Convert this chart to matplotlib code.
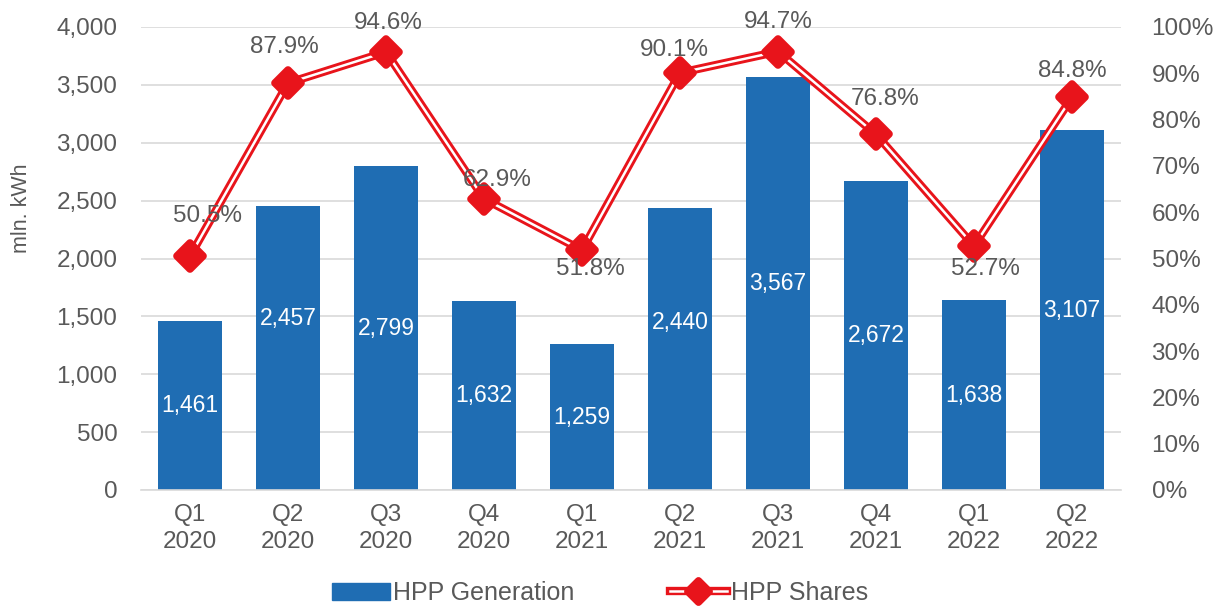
import matplotlib
matplotlib.use("Agg")
import matplotlib.pyplot as plt
from matplotlib.markers import MarkerStyle
from matplotlib.patches import Patch
from matplotlib.lines import Line2D
from matplotlib.ticker import FuncFormatter, MultipleLocator

plt.rcParams['font.family'] = ['Liberation Sans', 'DejaVu Sans']

quarters = ["Q1\n2020", "Q2\n2020", "Q3\n2020", "Q4\n2020", "Q1\n2021",
            "Q2\n2021", "Q3\n2021", "Q4\n2021", "Q1\n2022", "Q2\n2022"]
generation = [1461, 2457, 2799, 1632, 1259, 2440, 3567, 2672, 1638, 3107]
shares = [50.5, 87.9, 94.6, 62.9, 51.8, 90.1, 94.7, 76.8, 52.7, 84.8]

TEXT = "#595959"
GRID = "#d9d9d9"
BLUE = "#1f6db3"
RED = "#e8141b"
FS = 17.5
FS_BAR = 16.5
FS_LEG = 18

fig = plt.figure(figsize=(12.29, 6.07), dpi=100)
ax = fig.add_axes([141 / 1229, 1 - 490 / 607, 980 / 1229, 463 / 607])
x = list(range(len(quarters)))

ax.bar(x, generation, width=0.66, color=BLUE, zorder=2)
ax.set_xlim(-0.5, len(quarters) - 0.5)
ax.set_ylim(0, 4000)
ax.yaxis.set_major_locator(MultipleLocator(500))
ax.yaxis.set_major_formatter(FuncFormatter(lambda v, p: f"{int(v):,}"))
ax.grid(axis="y", color=GRID, linewidth=1.2, zorder=0)
ax.set_axisbelow(True)
for s in ["top", "left", "right"]:
    ax.spines[s].set_visible(False)
ax.spines["bottom"].set_color(GRID)
ax.spines["bottom"].set_linewidth(1.2)
ax.set_xticks(x)
ax.set_xticklabels(quarters, fontsize=FS, color=TEXT, linespacing=1.3)
ax.tick_params(axis="x", length=0, pad=10)
ax.tick_params(axis="y", length=0, pad=17, labelsize=FS, labelcolor=TEXT)
fig.text(22 / 1229, 1 - 208 / 607, "mln. kWh", rotation=90, ha="center",
         va="center", fontsize=15.5, color=TEXT)

# value labels inside the bars (two lifted clear of the share line)
bar_lift = {1: 29, 5: 26}
for i, v in enumerate(generation):
    ax.annotate(f"{v:,}", (i, v / 2), xytext=(0, bar_lift.get(i, 0)),
                textcoords="offset pixels", ha="center", va="center",
                fontsize=FS_BAR, color="white", zorder=5)

ax2 = ax.twinx()
ax2.set_ylim(0, 100)
ax2.yaxis.set_major_locator(MultipleLocator(10))
ax2.yaxis.set_major_formatter(FuncFormatter(lambda v, p: f"{int(v)}%"))
for s in ["top", "left", "right", "bottom"]:
    ax2.spines[s].set_visible(False)
ax2.tick_params(axis="y", length=0, pad=22, labelsize=FS, labelcolor=TEXT)

ax2.plot(x, shares, color=RED, linewidth=6, solid_joinstyle="miter", zorder=3)
ax2.plot(x, shares, color="white", linewidth=1.8, solid_joinstyle="miter", zorder=4)
mk = MarkerStyle("D", joinstyle="round")
ax2.plot(x, shares, linestyle="none", marker=mk, markersize=13,
         markerfacecolor=RED, markeredgecolor=RED, markeredgewidth=5.5, zorder=5)

share_offsets = [(17, 40), (-4, 36), (2, 29), (13, 19), (8, -19),
                 (-6, 23), (0, 30), (9, 35), (11, -23), (0, 26)]
for i, (v, off) in enumerate(zip(shares, share_offsets)):
    ax2.annotate(f"{v:.1f}%", (i, v), xytext=off, textcoords="offset pixels",
                 ha="center", va="center", fontsize=FS, color=TEXT, zorder=6)

h_bar = Patch(facecolor=BLUE, edgecolor=BLUE)
h_red = Line2D([], [], color=RED, linewidth=6)
h_white = Line2D([], [], color="white", linewidth=1.8)
h_mk = Line2D([], [], linestyle="none", marker=mk, markersize=11,
              markerfacecolor=RED, markeredgecolor=RED, markeredgewidth=5)
leg = fig.legend([h_bar, (h_red, h_white, h_mk)], ["HPP Generation", "HPP Shares"],
                 loc="center", bbox_to_anchor=(600 / 1229, 1 - 593 / 607),
                 ncol=2, frameon=False, fontsize=FS_LEG, handlelength=2.3,
                 handleheight=0.7, handletextpad=0.15, columnspacing=3.8)
for t in leg.get_texts():
    t.set_color(TEXT)

fig.savefig("out.png", dpi=100)
